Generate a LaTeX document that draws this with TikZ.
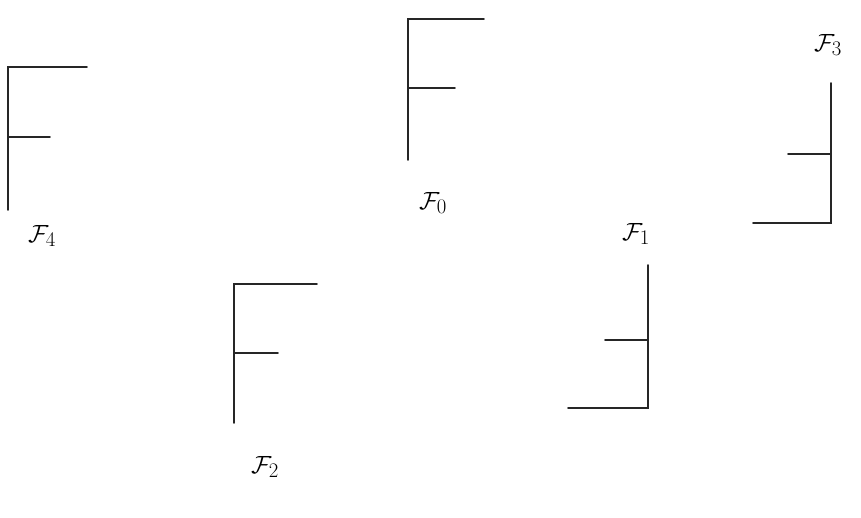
\documentclass[tikz,border=0pt]{standalone}
\begin{document}
\begin{tikzpicture}[x=1pt,y=-1pt,
  stroke/.style={line width=1.8pt,line cap=round,black!85},
  lbl/.style={font=\fontsize{28}{32}\selectfont,inner sep=0pt}]
\useasboundingbox (0,0) rectangle (861,517);
% F0
\draw[stroke] (484,19) -- (408,19) -- (408,160);
\draw[stroke] (408,88) -- (455,88);
\node[lbl] (l0) at (433,203) {$\mathcal{F}_0$};
% F4
\draw[stroke] (87,67) -- (8,67) -- (8,210);
\draw[stroke] (8,137) -- (50,137);
\node[lbl] (l4) at (42,236) {$\mathcal{F}_4$};
% F3
\draw[stroke] (831,83) -- (831,223) -- (753,223);
\draw[stroke] (788,154) -- (831,154);
\node[lbl] (l3) at (828,45) {$\mathcal{F}_3$};
% F1
\draw[stroke] (648,265) -- (648,408) -- (568,408);
\draw[stroke] (605,340) -- (648,340);
\node[lbl] (l1) at (636,234) {$\mathcal{F}_1$};
% F2
\draw[stroke] (317,284) -- (234,284) -- (234,423);
\draw[stroke] (234,353) -- (278,353);
\node[lbl] (l2) at (265,467) {$\mathcal{F}_2$};
\end{tikzpicture}
\end{document}
